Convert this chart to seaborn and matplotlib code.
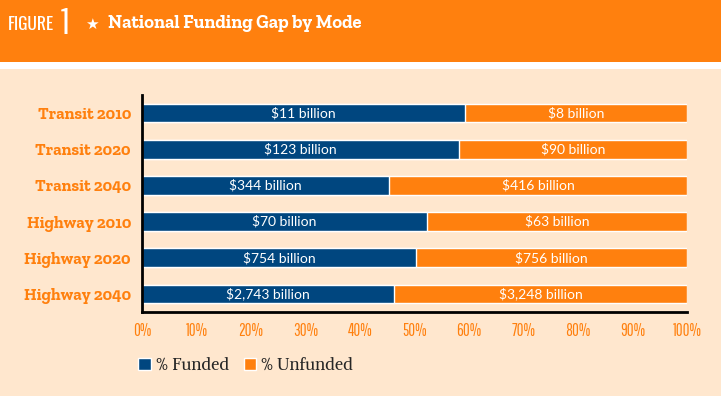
import matplotlib
matplotlib.use("Agg")
import matplotlib.pyplot as plt
from matplotlib.patches import Rectangle, Patch
import seaborn as sns
import pandas as pd

# chart data (percent funded, labels as printed)
modes = ["Transit 2010", "Transit 2020", "Transit 2040",
         "Highway 2010", "Highway 2020", "Highway 2040"]
funded_pct = [59.3, 58.2, 45.3, 52.3, 50.3, 46.2]
funded_labels = ["$11 billion", "$123 billion", "$344 billion",
                 "$70 billion", "$754 billion", "$2,743 billion"]
unfunded_labels = ["$8 billion", "$90 billion", "$416 billion",
                   "$63 billion", "$756 billion", "$3,248 billion"]
tick_vals = list(range(0, 101, 10))
tick_labels = [f"{v}%" for v in tick_vals]

ORANGE = "#FF800E"
BLUE = "#00467F"
PEACH = "#FFE7CE"

NARROW = ["Pathway Gothic One", "Oswald", "DejaVu Sans"]
SLAB = ["Zilla Slab", "DejaVu Serif"]
LABEL = ["Lato", "DejaVu Sans"]
BOOK = ["Alike", "Liberation Serif", "DejaVu Serif"]

df = pd.DataFrame({"Mode": modes, "Funded": funded_pct})
df["Total"] = 100

sns.set_style("white")

W, H = 721, 396
fig = plt.figure(figsize=(W / 100, H / 100), dpi=100)
fig.patch.set_facecolor(PEACH)

# header band + white strip
fig.patches.append(Rectangle((0, 1 - 62 / H), 1, 62 / H, transform=fig.transFigure,
                             facecolor=ORANGE, edgecolor="none", zorder=0))
fig.patches.append(Rectangle((0, 1 - 69 / H), 1, 7 / H, transform=fig.transFigure,
                             facecolor="white", edgecolor="none", zorder=0))

hy = 1 - 24 / H
fig.text(8 / W, hy, "FIGURE", color="white", fontsize=12.5,
         family=["Oswald", "DejaVu Sans"], va="center")
fig.text(61 / W, 1 - 23 / H, "1", color="white", fontsize=27,
         family=NARROW, va="center")
fig.text(85 / W, hy, "★", color="white", fontsize=11, family="DejaVu Sans", va="center")
fig.text(108 / W, hy, "National Funding Gap by Mode", color="white", fontsize=13.3,
         fontweight="bold", family=SLAB, va="center")

ax = fig.add_axes([142 / W, 1 - 312 / H, 545 / W, (312 - 95) / H])
ax.set_facecolor(PEACH)

sns.barplot(data=df, y="Mode", x="Total", color=ORANGE, saturation=1,
            width=0.52, orient="h", ax=ax)
sns.barplot(data=df, y="Mode", x="Funded", color=BLUE, saturation=1,
            width=0.52, orient="h", ax=ax)

for i, (f, fl, ul) in enumerate(zip(funded_pct, funded_labels, unfunded_labels)):
    ax.text(f / 2, i, fl, color="white", fontsize=10, family=LABEL,
            ha="center", va="center")
    ax.text(f + (100 - f) / 2, i, ul, color="white", fontsize=10, family=LABEL,
            ha="center", va="center")

ax.set_xlim(0, 100)
ax.set_ylim(5.5, -0.5)
ax.set_xlabel("")
ax.set_ylabel("")
ax.set_xticks(tick_vals)
ax.set_xticklabels(tick_labels, color=ORANGE, fontsize=12, family=NARROW)
for lab in ax.get_yticklabels():
    lab.set_color(ORANGE)
    lab.set_fontsize(12)
    lab.set_fontweight("bold")
    lab.set_family(SLAB)

ax.tick_params(axis="y", length=0, pad=8)
ax.tick_params(axis="x", direction="in", length=6, width=1.5, color="black", pad=8)
for s in ["top", "right"]:
    ax.spines[s].set_visible(False)
for s in ["left", "bottom"]:
    ax.spines[s].set_color("black")
    ax.spines[s].set_linewidth(2)

handles = [Patch(facecolor=BLUE, label="% Funded"),
           Patch(facecolor=ORANGE, label="% Unfunded")]
fig.legend(handles=handles, loc="center left", bbox_to_anchor=(123 / W, 1 - 365 / H),
           bbox_transform=fig.transFigure, ncol=2, frameon=False,
           handlelength=0.75, handleheight=0.75, handletextpad=0.3,
           columnspacing=0.9, prop={"family": BOOK, "size": 12})

fig.savefig("out.png", dpi=100, facecolor=PEACH)
